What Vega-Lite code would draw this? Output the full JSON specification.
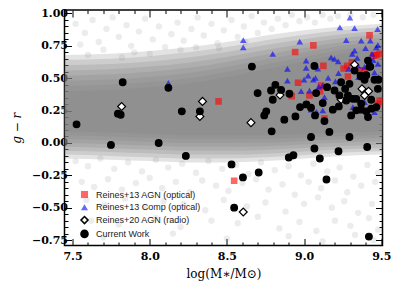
{
  "$schema": "https://vega.github.io/schema/vega-lite/v6.json",
  "width": 318,
  "height": 235.5,
  "autosize": {"type": "none"},
  "padding": {"left": 64.5, "top": 10, "right": 16.5, "bottom": 41.5},
  "background": "white",
  "config": {
    "view": {"stroke": "black", "strokeWidth": 1.5},
    "axis": {"domain": false, "grid": false, "tickColor": "black", "tickWidth": 1, "labelFont": "DejaVu Serif", "labelFontWeight": "bold", "labelFontSize": 11, "labelColor": "black", "titleColor": "black", "titleFontWeight": "normal"}
  },
  "datasets": {
    "bands": [
      {"b":1,"x":7.448,"lo":-0.12,"hi":0.68},{"b":1,"x":7.75,"lo":-0.13,"hi":0.69},{"b":1,"x":8.0,"lo":-0.14,"hi":0.71},{"b":1,"x":8.25,"lo":-0.15,"hi":0.74},{"b":1,"x":8.5,"lo":-0.15,"hi":0.78},{"b":1,"x":8.75,"lo":-0.14,"hi":0.83},{"b":1,"x":9.0,"lo":-0.12,"hi":0.87},{"b":1,"x":9.25,"lo":-0.1,"hi":0.9},{"b":1,"x":9.508,"lo":-0.09,"hi":0.92},
      {"b":2,"x":7.448,"lo":-0.09,"hi":0.64},{"b":2,"x":7.75,"lo":-0.1,"hi":0.65},{"b":2,"x":8.0,"lo":-0.11,"hi":0.67},{"b":2,"x":8.25,"lo":-0.12,"hi":0.7},{"b":2,"x":8.5,"lo":-0.12,"hi":0.741},{"b":2,"x":8.75,"lo":-0.111,"hi":0.793},{"b":2,"x":9.0,"lo":-0.093,"hi":0.836},{"b":2,"x":9.25,"lo":-0.074,"hi":0.87},{"b":2,"x":9.508,"lo":-0.064,"hi":0.893},
      {"b":3,"x":7.448,"lo":-0.06,"hi":0.6},{"b":3,"x":7.75,"lo":-0.07,"hi":0.61},{"b":3,"x":8.0,"lo":-0.08,"hi":0.63},{"b":3,"x":8.25,"lo":-0.09,"hi":0.66},{"b":3,"x":8.5,"lo":-0.09,"hi":0.703},{"b":3,"x":8.75,"lo":-0.083,"hi":0.756},{"b":3,"x":9.0,"lo":-0.066,"hi":0.801},{"b":3,"x":9.25,"lo":-0.049,"hi":0.84},{"b":3,"x":9.508,"lo":-0.039,"hi":0.866},
      {"b":4,"x":7.448,"lo":-0.03,"hi":0.56},{"b":4,"x":7.75,"lo":-0.04,"hi":0.57},{"b":4,"x":8.0,"lo":-0.05,"hi":0.59},{"b":4,"x":8.25,"lo":-0.06,"hi":0.62},{"b":4,"x":8.5,"lo":-0.06,"hi":0.664},{"b":4,"x":8.75,"lo":-0.054,"hi":0.719},{"b":4,"x":9.0,"lo":-0.039,"hi":0.767},{"b":4,"x":9.25,"lo":-0.023,"hi":0.81},{"b":4,"x":9.508,"lo":-0.013,"hi":0.839},
      {"b":5,"x":7.448,"lo":0.0,"hi":0.52},{"b":5,"x":7.75,"lo":-0.01,"hi":0.53},{"b":5,"x":8.0,"lo":-0.02,"hi":0.55},{"b":5,"x":8.25,"lo":-0.03,"hi":0.58},{"b":5,"x":8.5,"lo":-0.03,"hi":0.626},{"b":5,"x":8.75,"lo":-0.026,"hi":0.681},{"b":5,"x":9.0,"lo":-0.011,"hi":0.733},{"b":5,"x":9.25,"lo":0.003,"hi":0.78},{"b":5,"x":9.508,"lo":0.013,"hi":0.811},
      {"b":6,"x":7.448,"lo":0.03,"hi":0.48},{"b":6,"x":7.75,"lo":0.02,"hi":0.49},{"b":6,"x":8.0,"lo":0.01,"hi":0.51},{"b":6,"x":8.25,"lo":0.0,"hi":0.54},{"b":6,"x":8.5,"lo":0.0,"hi":0.587},{"b":6,"x":8.75,"lo":0.003,"hi":0.644},{"b":6,"x":9.0,"lo":0.016,"hi":0.699},{"b":6,"x":9.25,"lo":0.029,"hi":0.75},{"b":6,"x":9.508,"lo":0.039,"hi":0.784},
      {"b":7,"x":7.448,"lo":0.06,"hi":0.44},{"b":7,"x":7.75,"lo":0.05,"hi":0.45},{"b":7,"x":8.0,"lo":0.04,"hi":0.47},{"b":7,"x":8.25,"lo":0.03,"hi":0.5},{"b":7,"x":8.5,"lo":0.03,"hi":0.549},{"b":7,"x":8.75,"lo":0.031,"hi":0.607},{"b":7,"x":9.0,"lo":0.043,"hi":0.664},{"b":7,"x":9.25,"lo":0.054,"hi":0.72},{"b":7,"x":9.508,"lo":0.064,"hi":0.757},
      {"b":8,"x":7.448,"lo":0.09,"hi":0.4},{"b":8,"x":7.75,"lo":0.08,"hi":0.41},{"b":8,"x":8.0,"lo":0.07,"hi":0.43},{"b":8,"x":8.25,"lo":0.06,"hi":0.46},{"b":8,"x":8.5,"lo":0.06,"hi":0.51},{"b":8,"x":8.75,"lo":0.06,"hi":0.57},{"b":8,"x":9.0,"lo":0.07,"hi":0.63},{"b":8,"x":9.25,"lo":0.08,"hi":0.69},{"b":8,"x":9.508,"lo":0.09,"hi":0.73}
    ],
    "halo": [
      {"x": 7.52, "y": 0.92}, {"x": 7.58, "y": 0.85}, {"x": 7.63, "y": 0.95}, {"x": 7.67, "y": 0.78}, {"x": 7.72, "y": 0.88}, {"x": 7.76, "y": 0.97}, {"x": 7.8, "y": 0.82}, {"x": 7.85, "y": 0.91}, {"x": 7.88, "y": 0.75}, {"x": 7.93, "y": 0.86}, {"x": 7.97, "y": 0.96}, {"x": 8.02, "y": 0.8}, {"x": 8.06, "y": 0.9}, {"x": 8.1, "y": 0.74}, {"x": 8.14, "y": 0.84}, {"x": 8.18, "y": 0.93}, {"x": 8.22, "y": 0.79}, {"x": 8.27, "y": 0.88}, {"x": 8.31, "y": 0.97}, {"x": 8.35, "y": 0.83}, {"x": 8.4, "y": 0.92}, {"x": 8.44, "y": 0.77}, {"x": 8.48, "y": 0.87}, {"x": 8.53, "y": 0.95}, {"x": 8.57, "y": 0.82}, {"x": 8.61, "y": 0.9}, {"x": 8.66, "y": 0.98}, {"x": 8.7, "y": 0.85}, {"x": 8.74, "y": 0.93}, {"x": 8.79, "y": 0.88}, {"x": 8.83, "y": 0.96}, {"x": 8.88, "y": 0.91}, {"x": 8.92, "y": 0.99}, {"x": 8.97, "y": 0.94}, {"x": 9.02, "y": 0.97}, {"x": 9.07, "y": 0.93}, {"x": 9.12, "y": 0.99}, {"x": 9.17, "y": 0.96}, {"x": 9.22, "y": 0.98}, {"x": 9.3, "y": 0.99}, {"x": 9.38, "y": 0.97}, {"x": 9.45, "y": 0.99}, {"x": 7.55, "y": 0.76}, {"x": 7.7, "y": 0.72}, {"x": 7.9, "y": 0.7}, {"x": 8.2, "y": 0.72}, {"x": 8.45, "y": 0.73}, {"x": 8.62, "y": 0.78}, {"x": 7.6, "y": 0.68}, {"x": 7.82, "y": 0.66}, {"x": 8.0, "y": 0.69}, {"x": 8.3, "y": 0.74},
      {"x": 7.52, "y": -0.14}, {"x": 7.6, "y": -0.18}, {"x": 7.68, "y": -0.12}, {"x": 7.77, "y": -0.2}, {"x": 7.86, "y": -0.15}, {"x": 7.95, "y": -0.22}, {"x": 8.04, "y": -0.13}, {"x": 8.12, "y": -0.19}, {"x": 8.21, "y": -0.16}, {"x": 8.3, "y": -0.23}, {"x": 8.38, "y": -0.14}, {"x": 8.47, "y": -0.2}, {"x": 8.56, "y": -0.17}, {"x": 8.64, "y": -0.24}, {"x": 8.72, "y": -0.15}, {"x": 8.81, "y": -0.21}, {"x": 8.9, "y": -0.18}, {"x": 8.98, "y": -0.25}, {"x": 9.06, "y": -0.16}, {"x": 9.15, "y": -0.22}, {"x": 9.23, "y": -0.19}, {"x": 9.32, "y": -0.26}, {"x": 9.41, "y": -0.17}, {"x": 9.48, "y": -0.23},
      {"x": 7.56, "y": -0.3}, {"x": 7.64, "y": -0.34}, {"x": 7.73, "y": -0.28}, {"x": 7.82, "y": -0.36}, {"x": 7.91, "y": -0.31}, {"x": 8.0, "y": -0.27}, {"x": 8.08, "y": -0.35}, {"x": 8.17, "y": -0.3}, {"x": 8.26, "y": -0.38}, {"x": 8.34, "y": -0.29}, {"x": 8.43, "y": -0.33}, {"x": 8.51, "y": -0.37}, {"x": 8.6, "y": -0.31}, {"x": 8.69, "y": -0.28}, {"x": 8.77, "y": -0.36}, {"x": 8.86, "y": -0.32}, {"x": 8.94, "y": -0.4}, {"x": 9.03, "y": -0.3}, {"x": 9.11, "y": -0.35}, {"x": 9.2, "y": -0.29}, {"x": 9.28, "y": -0.38}, {"x": 9.37, "y": -0.33}, {"x": 9.46, "y": -0.3},
      {"x": 7.59, "y": -0.44}, {"x": 7.71, "y": -0.48}, {"x": 7.84, "y": -0.43}, {"x": 7.97, "y": -0.5}, {"x": 8.09, "y": -0.45}, {"x": 8.22, "y": -0.47}, {"x": 8.36, "y": -0.52}, {"x": 8.48, "y": -0.44}, {"x": 8.63, "y": -0.49}, {"x": 8.75, "y": -0.46}, {"x": 8.88, "y": -0.53}, {"x": 9.0, "y": -0.47}, {"x": 9.09, "y": -0.42}, {"x": 9.18, "y": -0.5}, {"x": 9.26, "y": -0.45}, {"x": 9.35, "y": -0.54}, {"x": 9.44, "y": -0.47},
      {"x": 7.62, "y": -0.6}, {"x": 7.8, "y": -0.63}, {"x": 8.04, "y": -0.58}, {"x": 8.2, "y": -0.65}, {"x": 8.4, "y": -0.6}, {"x": 8.57, "y": -0.62}, {"x": 8.7, "y": -0.57}, {"x": 8.84, "y": -0.66}, {"x": 8.97, "y": -0.61}, {"x": 9.08, "y": -0.68}, {"x": 9.2, "y": -0.6}, {"x": 9.3, "y": -0.64}, {"x": 9.42, "y": -0.58}, {"x": 9.48, "y": -0.67},
      {"x": 7.7, "y": -0.73}, {"x": 8.15, "y": -0.7}, {"x": 8.5, "y": -0.74}, {"x": 8.9, "y": -0.72}, {"x": 9.12, "y": -0.76}, {"x": 9.33, "y": -0.71}, {"x": 9.45, "y": -0.75}
    ],
    "pts": [
      {"s": "a", "x": 8.446, "y": 0.321}, {"s": "a", "x": 8.547, "y": -0.292}, {"s": "a", "x": 8.942, "y": 0.703}, {"s": "a", "x": 9.06, "y": 0.754}, {"s": "a", "x": 9.125, "y": 0.595}, {"s": "a", "x": 9.424, "y": 0.831}, {"s": "a", "x": 9.468, "y": 0.678}, {"s": "a", "x": 9.279, "y": 0.595}, {"s": "a", "x": 9.256, "y": 0.575}, {"s": "a", "x": 9.359, "y": 0.562}, {"s": "a", "x": 8.961, "y": 0.465}, {"s": "a", "x": 8.92, "y": 0.362}, {"s": "a", "x": 9.035, "y": 0.367}, {"s": "a", "x": 9.104, "y": 0.4}, {"s": "a", "x": 9.132, "y": 0.188}, {"s": "a", "x": 9.31, "y": 0.623}, {"s": "a", "x": 9.45, "y": 0.675}, {"s": "a", "x": 9.392, "y": 0.559}, {"s": "a", "x": 9.49, "y": 0.688}, {"s": "a", "x": 9.49, "y": 0.328}, {"s": "a", "x": 9.284, "y": 0.513}, {"s": "a", "x": 9.478, "y": 0.303}, {"s": "a", "x": 9.11, "y": 0.444},
      {"s": "c", "x": 8.121, "y": 0.465}, {"s": "c", "x": 8.606, "y": 0.795}, {"s": "c", "x": 8.606, "y": 0.738}, {"s": "c", "x": 8.797, "y": 0.688}, {"s": "c", "x": 8.972, "y": 0.782}, {"s": "c", "x": 8.892, "y": 0.572}, {"s": "c", "x": 8.892, "y": 0.482}, {"s": "c", "x": 9.013, "y": 0.636}, {"s": "c", "x": 9.013, "y": 0.58}, {"s": "c", "x": 9.026, "y": 0.52}, {"s": "c", "x": 9.074, "y": 0.503}, {"s": "c", "x": 9.095, "y": 0.436}, {"s": "c", "x": 9.156, "y": 0.503}, {"s": "c", "x": 9.175, "y": 0.661}, {"s": "c", "x": 9.197, "y": 0.649}, {"s": "c", "x": 9.221, "y": 0.631}, {"s": "c", "x": 9.203, "y": 0.475}, {"s": "c", "x": 9.223, "y": 0.539}, {"s": "c", "x": 9.232, "y": 0.892}, {"s": "c", "x": 9.273, "y": 0.795}, {"s": "c", "x": 9.297, "y": 0.969}, {"s": "c", "x": 9.327, "y": 0.887}, {"s": "c", "x": 9.312, "y": 0.688}, {"s": "c", "x": 9.327, "y": 0.713}, {"s": "c", "x": 9.37, "y": 0.79}, {"s": "c", "x": 9.429, "y": 0.79}, {"s": "c", "x": 9.476, "y": 0.88}, {"s": "c", "x": 9.468, "y": 0.739}, {"s": "c", "x": 9.44, "y": 0.688}, {"s": "c", "x": 9.456, "y": 0.546}, {"s": "c", "x": 9.349, "y": 0.598}, {"s": "c", "x": 9.288, "y": 0.572}, {"s": "c", "x": 9.353, "y": 0.508}, {"s": "c", "x": 9.478, "y": 0.61}, {"s": "c", "x": 9.482, "y": 0.508}, {"s": "c", "x": 9.121, "y": 0.444}, {"s": "c", "x": 9.035, "y": 0.405}, {"s": "c", "x": 9.132, "y": 0.354}, {"s": "c", "x": 9.316, "y": 0.277}, {"s": "c", "x": 9.456, "y": 0.238}, {"s": "c", "x": 9.392, "y": 0.315}, {"s": "c", "x": 9.121, "y": 0.252}, {"s": "c", "x": 9.398, "y": 0.733}, {"s": "c", "x": 9.478, "y": 0.755}, {"s": "c", "x": 9.344, "y": 0.657}, {"s": "c", "x": 9.089, "y": 0.575}, {"s": "c", "x": 9.392, "y": 0.588}, {"s": "c", "x": 9.448, "y": 0.639}, {"s": "c", "x": 8.981, "y": 0.4}, {"s": "c", "x": 9.045, "y": 0.257}, {"s": "c", "x": 9.08, "y": 0.24}, {"s": "c", "x": 9.0, "y": 0.49}, {"s": "c", "x": 9.06, "y": 0.49}, {"s": "c", "x": 9.414, "y": 0.22},
      {"s": "r", "x": 7.818, "y": 0.282}, {"s": "r", "x": 8.342, "y": 0.321}, {"s": "r", "x": 8.325, "y": 0.205}, {"s": "r", "x": 8.656, "y": 0.157}, {"s": "r", "x": 8.606, "y": -0.533}, {"s": "r", "x": 8.844, "y": 0.37}, {"s": "r", "x": 9.24, "y": 0.336}, {"s": "r", "x": 9.375, "y": 0.418}, {"s": "r", "x": 9.418, "y": 0.4}, {"s": "r", "x": 9.392, "y": 0.367}, {"s": "r", "x": 9.327, "y": 0.605},
      {"s": "w", "x": 7.825, "y": 0.469}, {"s": "w", "x": 7.794, "y": 0.226}, {"s": "w", "x": 7.812, "y": 0.218}, {"s": "w", "x": 7.526, "y": 0.144}, {"s": "w", "x": 7.749, "y": -0.015}, {"s": "w", "x": 8.058, "y": 0.0}, {"s": "w", "x": 8.121, "y": 0.426}, {"s": "w", "x": 8.208, "y": 0.244}, {"s": "w", "x": 8.325, "y": 0.244}, {"s": "w", "x": 8.234, "y": -0.1}, {"s": "w", "x": 8.662, "y": 0.59}, {"s": "w", "x": 8.699, "y": 0.385}, {"s": "w", "x": 8.755, "y": 0.244}, {"s": "w", "x": 8.742, "y": 0.213}, {"s": "w", "x": 8.79, "y": 0.09}, {"s": "w", "x": 8.786, "y": 0.405}, {"s": "w", "x": 8.814, "y": 0.449}, {"s": "w", "x": 8.797, "y": 0.334}, {"s": "w", "x": 8.851, "y": 0.41}, {"s": "w", "x": 8.905, "y": 0.38}, {"s": "w", "x": 8.872, "y": 0.18}, {"s": "w", "x": 8.944, "y": 0.205}, {"s": "w", "x": 8.974, "y": 0.277}, {"s": "w", "x": 9.015, "y": 0.298}, {"s": "w", "x": 9.045, "y": 0.272}, {"s": "w", "x": 9.071, "y": 0.213}, {"s": "w", "x": 9.067, "y": 0.595}, {"s": "w", "x": 9.045, "y": 0.046}, {"s": "w", "x": 9.067, "y": -0.043}, {"s": "w", "x": 9.132, "y": 0.169}, {"s": "w", "x": 9.149, "y": 0.431}, {"s": "w", "x": 9.197, "y": 0.405}, {"s": "w", "x": 9.186, "y": 0.257}, {"s": "w", "x": 9.225, "y": 0.282}, {"s": "w", "x": 9.164, "y": 0.085}, {"s": "w", "x": 9.24, "y": 0.469}, {"s": "w", "x": 9.266, "y": 0.418}, {"s": "w", "x": 9.294, "y": 0.457}, {"s": "w", "x": 9.284, "y": 0.367}, {"s": "w", "x": 9.316, "y": 0.341}, {"s": "w", "x": 9.338, "y": 0.341}, {"s": "w", "x": 9.305, "y": 0.213}, {"s": "w", "x": 9.294, "y": 0.046}, {"s": "w", "x": 9.327, "y": 0.559}, {"s": "w", "x": 9.366, "y": 0.52}, {"s": "w", "x": 9.392, "y": 0.488}, {"s": "w", "x": 9.414, "y": 0.636}, {"s": "w", "x": 9.429, "y": 0.59}, {"s": "w", "x": 9.37, "y": 0.257}, {"s": "w", "x": 9.403, "y": 0.244}, {"s": "w", "x": 9.435, "y": 0.265}, {"s": "w", "x": 9.435, "y": 0.334}, {"s": "w", "x": 9.482, "y": 0.488}, {"s": "w", "x": 9.478, "y": 0.418}, {"s": "w", "x": 9.409, "y": -0.031}, {"s": "w", "x": 8.53, "y": -0.166}, {"s": "w", "x": 8.604, "y": -0.266}, {"s": "w", "x": 8.706, "y": -0.228}, {"s": "w", "x": 8.547, "y": -0.5}, {"s": "w", "x": 8.901, "y": -0.112}, {"s": "w", "x": 8.931, "y": -0.095}, {"s": "w", "x": 9.102, "y": -0.12}, {"s": "w", "x": 9.223, "y": -0.064}, {"s": "w", "x": 9.145, "y": -0.282}, {"s": "w", "x": 9.42, "y": -0.723}, {"s": "w", "x": 9.121, "y": 0.308}, {"s": "w", "x": 9.078, "y": 0.385}, {"s": "w", "x": 9.229, "y": 0.367}, {"s": "w", "x": 9.273, "y": 0.328}, {"s": "w", "x": 9.338, "y": 0.252}, {"s": "w", "x": 9.37, "y": 0.303}, {"s": "w", "x": 9.37, "y": 0.513}, {"s": "w", "x": 9.456, "y": 0.488}, {"s": "w", "x": 9.468, "y": 0.277}, {"s": "w", "x": 9.414, "y": 0.2}, {"s": "w", "x": 9.424, "y": 0.588}, {"s": "w", "x": 9.403, "y": 0.523}
    ]
  },
  "layer": [
    {
      "data": {"name": "bands"},
      "mark": {"type": "area", "interpolate": "monotone", "color": "#808080", "opacity": 0.22, "clip": true},
      "encoding": {
        "x": {"field": "x", "type": "quantitative", "scale": {"domain": [7.448, 9.508], "nice": false, "zero": false}, "axis": null},
        "y": {"field": "lo", "type": "quantitative", "scale": {"domain": [-0.792, 1.027], "nice": false, "zero": false}, "axis": null},
        "y2": {"field": "hi"},
        "detail": {"field": "b", "type": "nominal"}
      }
    },
    {
      "data": {"name": "halo"},
      "mark": {"type": "circle", "color": "#808080", "opacity": 0.15, "size": 40, "clip": true},
      "encoding": {
        "x": {"field": "x", "type": "quantitative", "scale": {"domain": [7.448, 9.508], "nice": false, "zero": false},
          "axis": {"orient": "top", "labels": false, "title": null, "values": [7.5,7.6,7.7,7.8,7.9,8.0,8.1,8.2,8.3,8.4,8.5,8.6,8.7,8.8,8.9,9.0,9.1,9.2,9.3,9.4,9.5],
            "tickSize": {"condition": {"test": "abs(datum.value*2-round(datum.value*2))<0.001", "value": -7}, "value": -3.5}}},
        "y": {"field": "y", "type": "quantitative", "scale": {"domain": [-0.792, 1.027], "nice": false, "zero": false},
          "axis": {"orient": "right", "labels": false, "title": null, "values": [-0.75,-0.7,-0.65,-0.6,-0.55,-0.5,-0.45,-0.4,-0.35,-0.3,-0.25,-0.2,-0.15,-0.1,-0.05,0,0.05,0.1,0.15,0.2,0.25,0.3,0.35,0.4,0.45,0.5,0.55,0.6,0.65,0.7,0.75,0.8,0.85,0.9,0.95,1.0],
            "tickSize": {"condition": {"test": "abs(datum.value*4-round(datum.value*4))<0.001", "value": -7}, "value": -3.5}}}
      }
    },
    {
      "data": {"name": "pts"},
      "mark": {"type": "point", "filled": true, "opacity": 1, "strokeWidth": 1.2, "clip": true},
      "encoding": {
        "x": {"field": "x", "type": "quantitative", "scale": {"domain": [7.448, 9.508], "nice": false, "zero": false},
          "axis": {"orient": "bottom", "title": "log(M∗/M⊙)", "titleFont": "DejaVu Serif", "titleFontSize": 12, "titlePadding": 7, "labelPadding": 12,
            "values": [7.5,7.6,7.7,7.8,7.9,8.0,8.1,8.2,8.3,8.4,8.5,8.6,8.7,8.8,8.9,9.0,9.1,9.2,9.3,9.4,9.5],
            "labelExpr": "abs(datum.value*2-round(datum.value*2))<0.001 ? format(datum.value,'.1f') : ''",
            "tickSize": {"condition": {"test": "abs(datum.value*2-round(datum.value*2))<0.001", "value": -7}, "value": -3.5}}},
        "y": {"field": "y", "type": "quantitative", "scale": {"domain": [-0.792, 1.027], "nice": false, "zero": false},
          "axis": {"orient": "left", "title": "g − r", "titleFont": "DejaVu Serif", "titleFontStyle": "italic", "titleFontSize": 12, "titlePadding": 8, "labelPadding": 4,
            "values": [-0.75,-0.7,-0.65,-0.6,-0.55,-0.5,-0.45,-0.4,-0.35,-0.3,-0.25,-0.2,-0.15,-0.1,-0.05,0,0.05,0.1,0.15,0.2,0.25,0.3,0.35,0.4,0.45,0.5,0.55,0.6,0.65,0.7,0.75,0.8,0.85,0.9,0.95,1.0],
            "labelExpr": "abs(datum.value*4-round(datum.value*4))<0.001 ? format(datum.value,'.2f') : ''",
            "tickSize": {"condition": {"test": "abs(datum.value*4-round(datum.value*4))<0.001", "value": -7}, "value": -3.5}}},
        "shape": {"field": "s", "type": "nominal", "scale": {"domain": ["a", "c", "r", "w"], "range": ["square", "triangle-up", "diamond", "circle"]},
          "legend": {"title": null, "orient": "none", "legendX": 15.5, "legendY": 180, "padding": 0, "rowPadding": -1.2, "symbolSize": 50, "labelFont": "Liberation Sans", "labelFontSize": 9, "labelColor": "#222", "labelOffset": 7,
            "labelExpr": "datum.label == 'a' ? 'Reines+13 AGN (optical)' : datum.label == 'c' ? 'Reines+13 Comp (optical)' : datum.label == 'r' ? 'Reines+20 AGN (radio)' : 'Current Work'"}},
        "fill": {"field": "s", "type": "nominal", "scale": {"domain": ["a", "c", "r", "w"], "range": ["rgba(255,0,0,0.6)", "rgba(0,0,255,0.6)", "#ffffff", "#000000"]}},
        "stroke": {"field": "s", "type": "nominal", "scale": {"domain": ["a", "c", "r", "w"], "range": ["transparent", "transparent", "#000000", "#000000"]}},
        "size": {"condition": {"test": "datum.s == 'r'", "value": 62}, "value": 44}
      }
    }
  ],
  "resolve": {"axis": {"x": "independent", "y": "independent"}}
}
